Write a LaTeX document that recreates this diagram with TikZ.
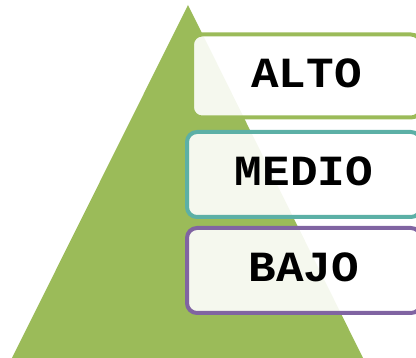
\documentclass[tikz,border=0pt]{standalone}
\usepackage{fontspec}
\newfontfamily\levelfont[FakeStretch=1.07]{Liberation Mono}
\definecolor{levelgreen}{RGB}{155,187,89}
\definecolor{levelteal}{RGB}{92,176,166}
\definecolor{levelpurple}{RGB}{128,100,162}
\tikzset{
	level/.style={draw, line width=4pt, rounded corners=10pt, fill=white, fill opacity=0.9, text opacity=1, text depth=6pt, font=\levelfont\bfseries\fontsize{43}{43}\selectfont}
}

\begin{document}
\begin{tikzpicture}[x=1pt, y=-1pt]
		\useasboundingbox (0, 0) rectangle (416, 358);
		\fill [levelgreen] (188, 5) -- (12, 358) -- (363, 358) -- cycle;
		\node [level, draw=levelgreen, minimum width=229pt, minimum height=83pt] (alto) at (306.5, 76) {ALTO};
		\node [level, draw=levelteal, minimum width=234pt, minimum height=85pt] (medio) at (304, 174.5) {MEDIO};
		\node [level, draw=levelpurple, minimum width=234pt, minimum height=85pt] (bajo) at (304, 270.5) {BAJO};
	\end{tikzpicture}
\end{document}
